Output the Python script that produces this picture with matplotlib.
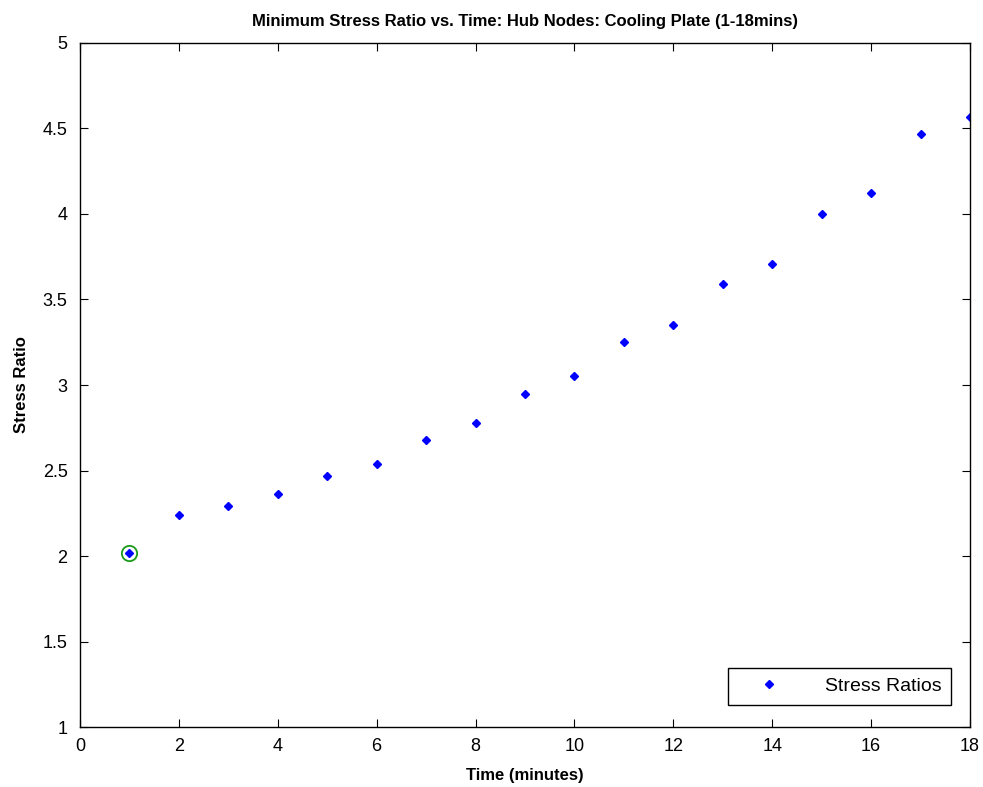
import matplotlib
matplotlib.use("Agg")
import matplotlib.pyplot as plt

plt.rcParams['font.family'] = ['Liberation Sans', 'DejaVu Sans']

# minutes and the minimum stress ratio
times = [1, 2, 3, 4, 5, 6, 7, 8, 9, 10, 11, 12, 13, 14, 15, 16, 17, 18]
ratios = [2.02, 2.24, 2.29, 2.36, 2.47, 2.54, 2.68, 2.78, 2.95, 3.05,
          3.25, 3.35, 3.59, 3.71, 4.00, 4.12, 4.47, 4.57]
x_ticks = [0, 2, 4, 6, 8, 10, 12, 14, 16, 18]
y_ticks = [1, 1.5, 2, 2.5, 3, 3.5, 4, 4.5, 5]
y_labels = ['1', '1.5', '2', '2.5', '3', '3.5', '4', '4.5', '5']

fig = plt.figure(figsize=(9.83, 7.87), dpi=100)
ax = fig.add_axes([0.0814, 0.0762, 0.9054, 0.8692])

ax.plot(times, ratios, linestyle='none', marker='D', markersize=4,
        color='#0000ff', label='Stress Ratios')
# circled minimum point
ax.plot(times[0], ratios[0], linestyle='none', marker='o', markersize=11,
        markerfacecolor='none', markeredgecolor='#1a9a1a', markeredgewidth=1.3)

ax.set_xlim(0, 18)
ax.set_ylim(1, 5)
ax.set_xticks(x_ticks)
ax.set_yticks(y_ticks)
ax.set_yticklabels(y_labels)
ax.tick_params(direction='in', top=True, right=True, labelsize=13, length=6)
ax.tick_params(axis='x', pad=8)
ax.tick_params(axis='y', pad=9)
for s in ax.spines.values():
    s.set_linewidth(1.0)

ax.set_title('Minimum Stress Ratio vs. Time: Hub Nodes: Cooling Plate (1-18mins)',
             fontsize=12, fontweight='bold', pad=12)
ax.set_xlabel('Time (minutes)', fontsize=12, fontweight='bold', labelpad=9)
ax.set_ylabel('Stress Ratio', fontsize=12, fontweight='bold', labelpad=10)

leg = ax.legend(loc='lower right', fontsize=14, fancybox=False, framealpha=1,
                edgecolor='black', handlelength=3.2, handletextpad=1.3,
                borderpad=0.5, bbox_to_anchor=(0.990, 0.018))
leg.get_frame().set_linewidth(1.0)

fig.savefig('out.png', dpi=100)
